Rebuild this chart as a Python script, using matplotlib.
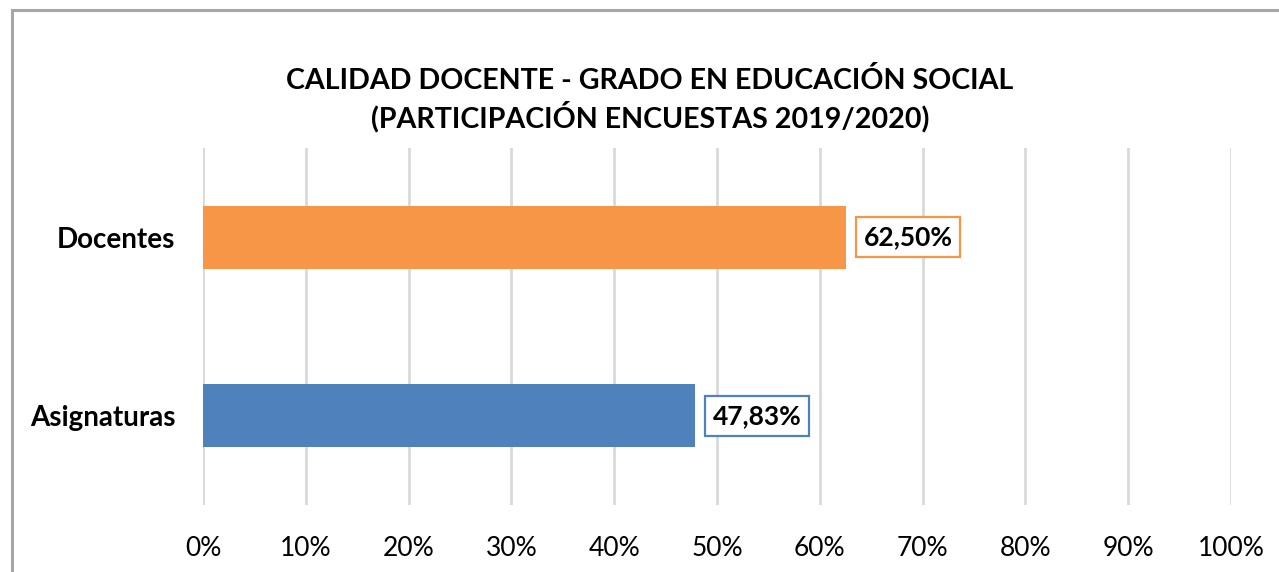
import matplotlib.pyplot as plt
from matplotlib.patches import Rectangle

# datos
categorias = ["Asignaturas", "Docentes"]
valores = [47.83, 62.50]
etiquetas = ["47,83%", "62,50%"]
colores = ["#4F81BD", "#F79646"]
ticks = list(range(0, 101, 10))
tick_labels = [f"{t}%" for t in ticks]

plt.rcParams['font.family'] = ['Lato', 'DejaVu Sans']

fig = plt.figure(figsize=(12.79, 5.72), dpi=100)
ax = fig.add_axes([203 / 1279, 1 - 505 / 572, 1028 / 1279, 357 / 572])

# marco exterior del gráfico
fig.patches.append(Rectangle((12 / 1279, -0.05), 1.1, 1 - 10 / 572 + 0.05,
                             transform=fig.transFigure, fill=False,
                             edgecolor="#A6A6A6", linewidth=2.2))

ax.barh(range(len(categorias)), valores, height=0.354, color=colores, zorder=3)

for i, (v, lab, c) in enumerate(zip(valores, etiquetas, colores)):
    ax.annotate(lab, xy=(v, i), xytext=(13, 0), textcoords="offset points",
                va="center", ha="left", fontsize=19, fontweight="bold",
                bbox=dict(boxstyle="square,pad=0.3", fc="white", ec=c, lw=1.6),
                zorder=4)

ax.set_xlim(0, 100)
ax.set_ylim(-0.5, 1.5)
ax.set_xticks(ticks)
ax.set_xticklabels(tick_labels, fontsize=19)
ax.set_yticks(range(len(categorias)))
ax.set_yticklabels(categorias, fontsize=20, fontweight="bold")
ax.tick_params(axis="both", length=0)
ax.tick_params(axis="x", pad=22)
ax.tick_params(axis="y", pad=20)
ax.grid(axis="x", color="#D9D9D9", linewidth=2, zorder=0)
for s in ax.spines.values():
    s.set_visible(False)

fig.text(650 / 1279, 1 - 100 / 572,
         "CALIDAD DOCENTE - GRADO EN EDUCACIÓN SOCIAL\n(PARTICIPACIÓN ENCUESTAS 2019/2020)",
         ha="center", va="center", fontsize=20.6, fontweight="bold",
         linespacing=1.25)

fig.savefig("out.png", dpi=100)
